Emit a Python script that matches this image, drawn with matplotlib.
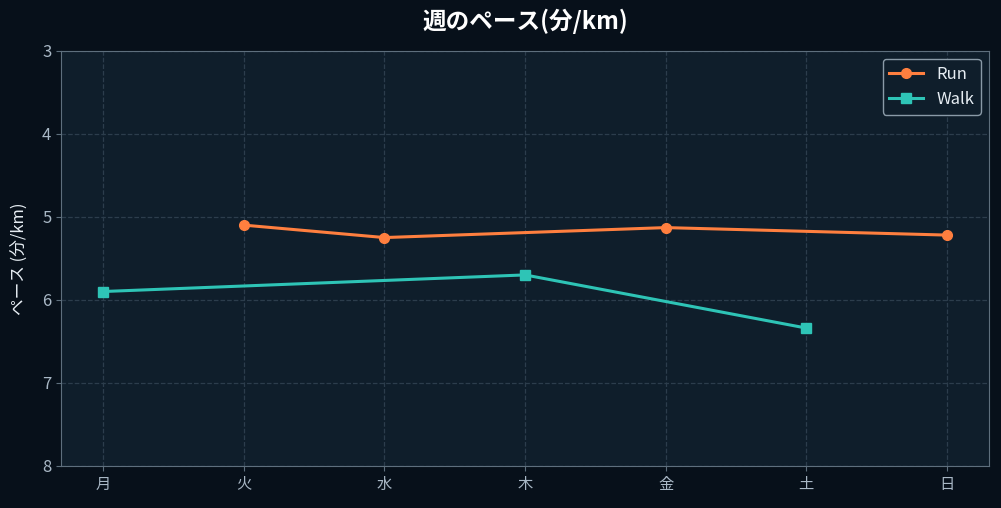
import matplotlib
matplotlib.use('Agg')
from matplotlib import pyplot as plt

days = ['月', '火', '水', '木', '金', '土', '日']
run_days = [1, 2, 4, 6]
run_pace = [5.10, 5.25, 5.13, 5.22]
walk_days = [0, 3, 5]
walk_pace = [5.90, 5.70, 6.34]

plt.rcParams['font.family'] = ['Noto Sans CJK JP', 'DejaVu Sans']

fig = plt.figure(figsize=(10.01, 5.08), dpi=100, facecolor='#07101a')
ax = fig.add_axes([0.061, 0.083, 0.927, 0.817])
ax.set_facecolor('#0f1e2b')

ax.plot(run_days, run_pace, color='#ff7f3f', lw=2.2, marker='o', ms=7, label='Run')
ax.plot(walk_days, walk_pace, color='#2ec4b6', lw=2.2, marker='s', ms=7, label='Walk')

ax.set_xticks(range(len(days)))
ax.set_xticklabels(days)
ax.set_ylim(8, 3)
ax.set_yticks([3, 4, 5, 6, 7, 8])
ax.set_xlim(-0.3, 6.3)

ax.grid(True, color='#2c3d4c', ls='--', lw=0.9)
for s in ax.spines.values():
    s.set_color('#5e6f7d')
ax.tick_params(colors='#5e6f7d', labelcolor='#a9b8c6', labelsize=12)
ax.tick_params(axis='x', labelsize=11)

ax.set_ylabel('ペース (分/km)', color='#e6edf3', fontsize=12, labelpad=10)
ax.set_title('週のペース(分/km)', color='white', fontsize=17, fontweight='bold', pad=16)

leg = ax.legend(loc='upper right', facecolor='#0f1e2b', edgecolor='#8a9aa7',
                fontsize=12, labelcolor='#e6edf3', framealpha=1)

plt.savefig('out.png', facecolor=fig.get_facecolor())
plt.close()
